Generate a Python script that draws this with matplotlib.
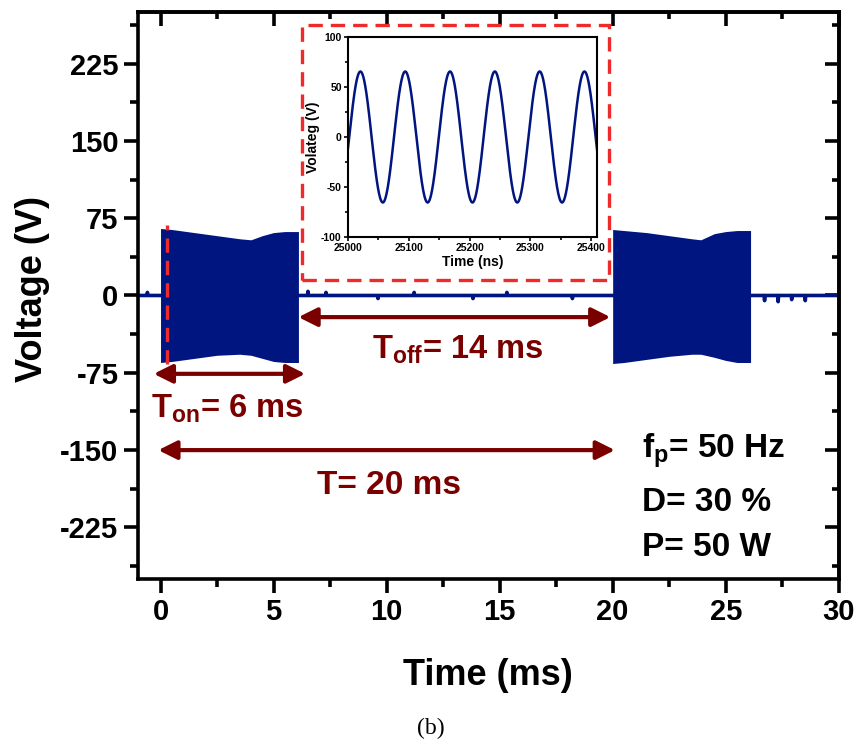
import numpy as np
import matplotlib
matplotlib.use('Agg')
import matplotlib.pyplot as plt
from matplotlib.patches import Rectangle
from matplotlib.ticker import MultipleLocator

plt.rcParams['font.family'] = ['Liberation Sans', 'DejaVu Sans']
plt.rcParams['font.weight'] = 'bold'
plt.rcParams['axes.unicode_minus'] = False
plt.rcParams['mathtext.fontset'] = 'custom'
plt.rcParams['mathtext.rm'] = 'Liberation Sans:bold'
plt.rcParams['mathtext.bf'] = 'Liberation Sans:bold'

BLUE = '#001580'
DARKRED = '#7a0000'
RED = '#ee2a2a'

# envelope of the two RF bursts (ms, V)
burst1_t = [0.0, 0.5, 1.5, 2.5, 3.5, 4.0, 4.5, 5.0, 5.5, 6.1]
burst1_hi = [65, 64, 61, 58, 55, 54, 58, 61, 62, 62]
burst1_lo = [-65, -64, -61, -58, -57, -58, -61, -64, -65, -65]
burst2_t = [20.0, 20.5, 21.5, 22.5, 23.5, 23.9, 24.5, 25.0, 25.5, 26.1]
burst2_hi = [64, 63, 61, 58, 55, 54, 60, 62, 63, 63]
burst2_lo = [-66, -65, -62, -59, -57, -57, -60, -63, -65, -65]

# baseline between bursts (ms, V) with the small glitches seen in the trace
base_t = [-1.0, -0.6, -0.58, -0.56, 0.0, 6.1, 6.5, 6.52, 6.54, 7.3, 7.32, 7.34,
          9.6, 9.62, 9.64, 11.2, 11.22, 11.24, 13.8, 13.82, 13.84, 15.3, 15.32,
          15.34, 18.2, 18.22, 18.24, 20.0, 26.1, 26.7, 26.72, 26.74, 27.3,
          27.32, 27.34, 27.9, 27.92, 27.94, 28.5, 28.52, 28.54, 30.0]
base_v = [0, 0, 3, 0, 0, 0, 0, 4, 0, 0, 3, 0, 0, -3, 0, 0, 3, 0, 0, -3, 0, 0,
          3, 0, 0, -3, 0, 0, 0, 0, -5, 0, 0, -6, 0, 0, -4, 0, 0, -5, 0, 0]

# dashed marker line at start of first burst
marker_t = 0.3
marker_v = (-66, 68)

# inset: zoom of the RF waveform (ns, V)
rf_freq_mhz = 13.56
rf_amp = 65.5
rf_t0 = 25000
rf_t_end = 25410

fig = plt.figure(figsize=(8.62, 7.49), dpi=100)
ax = fig.add_axes([0.160, 0.227, 0.813, 0.757])

ax.plot(base_t, base_v, color=BLUE, lw=2.6, zorder=2)
ax.fill_between(burst1_t, burst1_lo, burst1_hi, color=BLUE, lw=0, zorder=3)
ax.fill_between(burst2_t, burst2_lo, burst2_hi, color=BLUE, lw=0, zorder=3)
ax.plot([marker_t, marker_t], marker_v, color=RED, lw=2.4, ls=(0, (4.3, 2.4)), zorder=4)

ax.set_xlim(-1, 30)
ax.set_ylim(-275, 275)
ax.xaxis.set_major_locator(MultipleLocator(5))
ax.xaxis.set_minor_locator(MultipleLocator(2.5))
ax.set_yticks([-225, -150, -75, 0, 75, 150, 225])
ax.yaxis.set_minor_locator(MultipleLocator(37.5))
for s in ax.spines.values():
    s.set_linewidth(2.6)
ax.tick_params(which='major', direction='out', length=10, width=2.6,
               labelsize=21, top=False, right=False, pad=4)
ax.tick_params(which='minor', direction='out', length=6, width=2.6,
               top=False, right=False)
ax.set_xlabel('Time (ms)', fontsize=26, fontweight='bold', labelpad=23)
ax.set_ylabel('Voltage (V)', fontsize=26, fontweight='bold')
ax.yaxis.set_label_coords(-0.125, 0.512)

# inward ticks on top and right
top = ax.secondary_xaxis('top')
top.xaxis.set_major_locator(MultipleLocator(5))
top.xaxis.set_minor_locator(MultipleLocator(2.5))
top.tick_params(which='major', direction='in', length=10, width=2.6, labeltop=False)
top.tick_params(which='minor', direction='in', length=5, width=2.6)
top.spines['top'].set_linewidth(2.6)
right = ax.secondary_yaxis('right')
right.set_yticks([-225, -150, -75, 0, 75, 150, 225])
right.yaxis.set_minor_locator(MultipleLocator(37.5))
right.tick_params(which='major', direction='in', length=10, width=2.6, labelright=False)
right.tick_params(which='minor', direction='in', length=5, width=2.6)
right.spines['right'].set_linewidth(2.6)

# arrows
arw = dict(arrowstyle='<|-|>', color=DARKRED, lw=3, mutation_scale=28,
           shrinkA=0, shrinkB=0)
ax.annotate('', xy=(6.4, -76), xytext=(-0.3, -76), arrowprops=arw)
ax.annotate('', xy=(19.9, -21), xytext=(6.1, -21), arrowprops=arw)
ax.annotate('', xy=(20.1, -150), xytext=(-0.1, -150), arrowprops=arw)

ax.text(-0.4, -110, r'T$_{\mathrm{on}}$= 6 ms', color=DARKRED, fontsize=23.5,
        va='center', ha='left')
ax.text(9.35, -53, r'T$_{\mathrm{off}}$= 14 ms', color=DARKRED, fontsize=23.5,
        va='center', ha='left')
ax.text(10.1, -184, 'T= 20 ms', color=DARKRED, fontsize=24,
        va='center', ha='center')
ax.text(21.3, -150, r'f$_{\mathrm{p}}$= 50 Hz', fontsize=24, va='center', ha='left')
ax.text(21.3, -201, 'D= 30 %', fontsize=24, va='center', ha='left')
ax.text(21.3, -244, 'P= 50 W', fontsize=24, va='center', ha='left')

# red dashed frame around inset
ax.add_patch(Rectangle((6.25, 15), 13.6, 247, fill=True, facecolor='white',
                       edgecolor=RED, lw=2.4, ls=(0, (4.3, 2.4)), zorder=5))

# inset
ins = fig.add_axes([0.4037, 0.6836, 0.289, 0.267], zorder=10)
t_ns = np.linspace(rf_t0, rf_t_end, 2000)
ins.plot(t_ns, rf_amp * np.sin(2 * np.pi * rf_freq_mhz * 1e-3 * (t_ns - rf_t0 - 2.0)),
         color=BLUE, lw=1.8)
ins.set_xlim(rf_t0, rf_t_end)
ins.set_ylim(-100, 100)
ins.set_xticks([25000, 25100, 25200, 25300, 25400])
ins.xaxis.set_minor_locator(MultipleLocator(50))
ins.set_yticks([-100, -50, 0, 50, 100])
ins.yaxis.set_minor_locator(MultipleLocator(25))
for s in ins.spines.values():
    s.set_linewidth(1.5)
ins.tick_params(which='major', direction='out', length=3, width=1.2,
                labelsize=7.5, pad=1.5)
ins.tick_params(which='minor', direction='out', length=2, width=1.2)
for lbl in ins.get_xticklabels() + ins.get_yticklabels():
    lbl.set_fontweight('bold')
ins.set_xlabel('Time (ns)', fontsize=10, fontweight='bold', labelpad=1)
ins.set_ylabel('Volateg (V)', fontsize=10, fontweight='bold', labelpad=1)

fig.text(0.5, 0.027, '(b)', fontsize=17, family='Liberation Serif',
         fontweight='normal', ha='center', va='center')

fig.savefig('out.png', dpi=100)
